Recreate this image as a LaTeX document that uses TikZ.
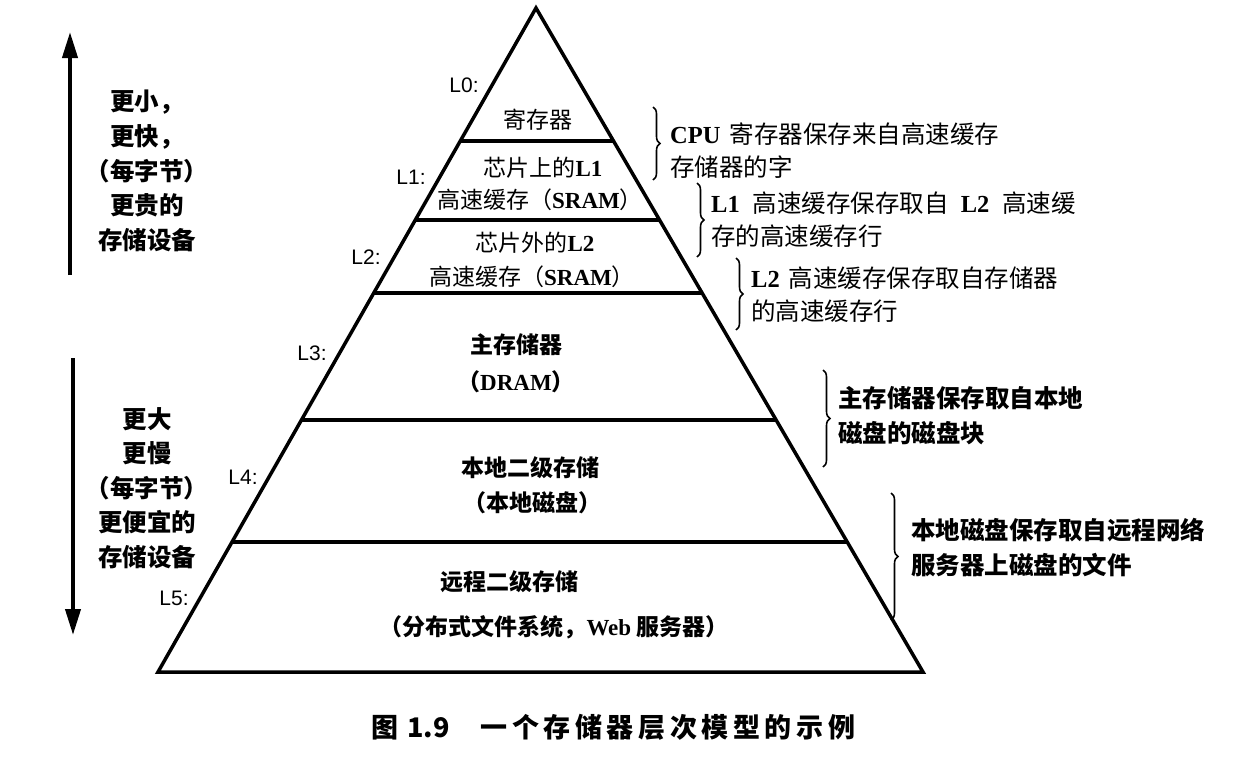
\documentclass[tikz,border=0pt]{standalone}
\usepackage{fontspec}
\setmainfont{Liberation Serif}
\newfontfamily\cjk{Noto Sans CJK SC}
\newfontfamily\lsans{Liberation Sans}
\newfontfamily\capfont[LetterSpace=17]{Noto Sans CJK SC}
\usetikzlibrary{decorations.pathreplacing,arrows.meta,calc}
\newcommand\latb[1]{{\rmfamily\bfseries #1}}
\tikzset{
  pyr/.style={line width=3.5pt, line join=miter},
  tier/.style={line width=3.2pt},
  lvl/.style={font=\lsans\fontsize{21}{21}\selectfont, inner sep=0pt},
  ptxt/.style={font=\cjk\fontsize{23}{23}\selectfont, inner sep=0pt},
  ptxtb/.style={font=\cjk\bfseries\fontsize{23}{23}\selectfont, inner sep=0pt},
  rtxt/.style={font=\cjk\fontsize{24.5}{33}\selectfont, align=left, anchor=west, inner sep=0pt},
  rtxtb/.style={font=\cjk\bfseries\fontsize{24.5}{35}\selectfont, align=left, anchor=west, inner sep=0pt},
  ltxt/.style={font=\cjk\bfseries\fontsize{24.5}{34.6}\selectfont, align=center, inner sep=0pt},
  brc/.style={decorate, decoration={brace, amplitude=7pt}, line width=1.6pt},
  bigarrow/.style={line width=4pt, -{Triangle[length=26pt,width=15pt]}},
  captxt/.style={font=\cjk\bfseries\fontsize{27}{27}\selectfont, anchor=west, inner sep=0pt},
}
\begin{document}
\begin{tikzpicture}[x=1pt,y=-1pt]
\useasboundingbox (0,0) rectangle (1253,769);
% pyramid
\coordinate (apex) at (536,8);
\coordinate (bl) at (158,672);
\coordinate (br) at (923,672);
\draw[pyr] (apex) -- (br) -- (bl) -- cycle;
\foreach \t/\n in {0.2003/a,0.3193/b,0.4292/c,0.6205/d,0.8042/e}{
  \coordinate (l\n) at ($(apex)!\t!(bl)$);
  \coordinate (r\n) at ($(apex)!\t!(br)$);
}
\draw[tier] (la) -- (ra);
\draw[tier] (lb) -- (rb);
\draw[tier] (lc) -- (rc);
\draw[tier] (ld) -- (rd);
\draw[tier] (le) -- (re);
% level labels
\node[lvl] (L0) at (464,85) {L0:};
\node[lvl] (L1) at (411,177) {L1:};
\node[lvl] (L2) at (366,257) {L2:};
\node[lvl] (L3) at (312,353) {L3:};
\node[lvl] (L4) at (243,477) {L4:};
\node[lvl] (L5) at (174,598) {L5:};
% pyramid texts
\node[ptxt] (t0) at (538,120) {寄存器};
\node[ptxt] (t1a) at (543,168) {芯片上的\latb{L1}};
\node[ptxt] (t1b) at (540,200) {高速缓存（\latb{SRAM}）};
\node[ptxt] (t2a) at (535,243) {芯片外的\latb{L2}};
\node[ptxt] (t2b) at (532,277) {高速缓存（\latb{SRAM}）};
\node[ptxtb] (t3a) at (516,345) {主存储器};
\node[ptxtb] (t3b) at (516,382) {（\latb{DRAM}）};
\node[ptxtb] (t4a) at (530,468) {本地二级存储};
\node[ptxtb] (t4b) at (532,503) {（本地磁盘）};
\node[ptxtb] (t5a) at (509,582) {远程二级存储};
\node[ptxtb] (t5b) at (554,627) {（分布式文件系统，\latb{Web} 服务器）};
% braces
\coordinate (b1t) at (653,107); \coordinate (b1b) at (653,180);
\coordinate (b2t) at (697,183); \coordinate (b2b) at (697,257);
\coordinate (b3t) at (736,258); \coordinate (b3b) at (736,330);
\coordinate (b4t) at (823,370); \coordinate (b4b) at (823,467);
\coordinate (b5t) at (891,493); \coordinate (b5b) at (891,620);
\draw[brc] (b1t) -- (b1b);
\draw[brc] (b2t) -- (b2b);
\draw[brc] (b3t) -- (b3b);
\draw[brc] (b4t) -- (b4b);
\draw[brc] (b5t) -- (b5b);
% right texts
\node[rtxt] (r1) at (670,151) {\latb{CPU}\hspace{9pt}寄存器保存来自高速缓存\\存储器的字};
\node[rtxt] (r2) at (711,220) {\latb{L1}\hspace{13pt}高速缓存保存取自\hspace{12pt}\latb{L2}\hspace{13pt}高速缓\\存的高速缓存行};
\node[rtxt] (r3) at (751,295) {\latb{L2}\hspace{9pt}高速缓存保存取自存储器\\的高速缓存行};
\node[rtxtb] (r4) at (838,416) {主存储器保存取自本地\\磁盘的磁盘块};
\node[rtxtb] (r5) at (911,548) {本地磁盘保存取自远程网络\\服务器上磁盘的文件};
% left arrows and texts
\coordinate (upS) at (70,275); \coordinate (upE) at (70,32);
\draw[bigarrow] (upS) -- (upE);
\coordinate (dnS) at (73,358); \coordinate (dnE) at (73,635);
\draw[bigarrow] (dnS) -- (dnE);
\node[ltxt] (fast) at (147,171) {更小，\\更快，\\（每字节）\\更贵的\\存储设备};
\node[ltxt] (slow) at (147,488) {更大\\更慢\\（每字节）\\更便宜的\\存储设备};
% caption
\node[captxt] (cap) at (371,727) {图\hspace{9pt}1.9\hspace{31pt}{\capfont 一个存储器层次模型的示例}};
\end{tikzpicture}
\end{document}
